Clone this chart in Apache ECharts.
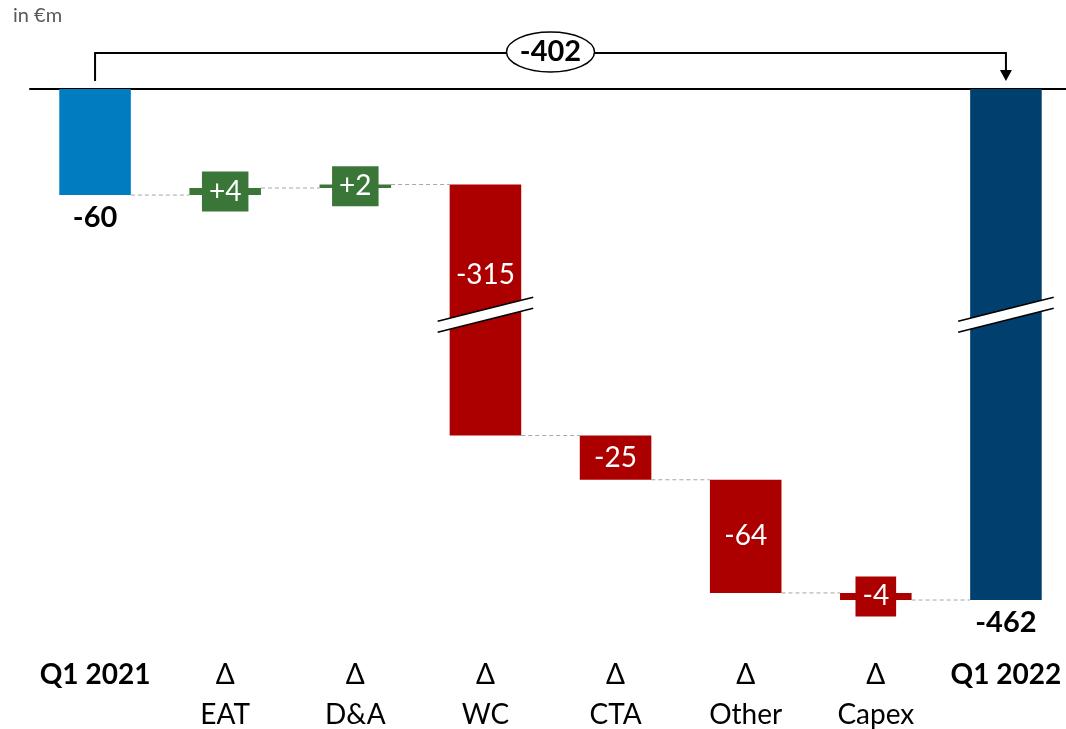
<!DOCTYPE html>
<html>
<head>
<meta charset="utf-8">
<script src="https://cdn.jsdelivr.net/npm/echarts@6/dist/echarts.min.js"></script>
<style>
  html, body { margin: 0; padding: 0; background: #fff; }
  #chart { width: 1066px; height: 729px; }
</style>
</head>
<body>
<div id="chart"></div>
<script>
var categories = ['Q1 2021', 'Δ\nEAT', 'Δ\nD&A', 'Δ\nWC', 'Δ\nCTA', 'Δ\nOther', 'Δ\nCapex', 'Q1 2022'];
var deltas = [-60, 4, 2, -315, -25, -64, -4, -462];
var isTotal = [true, false, false, false, false, false, false, true];
var barColors = ['#007cc1', '#3a7637', '#3a7637', '#ac0000', '#ac0000', '#ac0000', '#ac0000', '#003f6e'];
// part of the value axis that is cut out
var breakStart = -301, breakEnd = -128;

// waterfall: invisible base + visible bar
var baseVals = [], barVals = [], endVals = [];
var running = 0;
deltas.forEach(function (d, i) {
  var from = isTotal[i] ? 0 : running;
  var to = isTotal[i] ? d : running + d;
  baseVals.push(Math.max(from, to));
  barVals.push(Math.min(from, to) - Math.max(from, to));
  endVals.push(to);
  running = to;
});
var totalChange = deltas[deltas.length - 1] - deltas[0];

function labelText(i) {
  var d = deltas[i];
  return (!isTotal[i] && d > 0 ? '+' : '') + d;
}

var FONT = 'Lato, "Open Sans", sans-serif';
var BAR_RATIO = 0.55;

var chart = echarts.init(document.getElementById('chart'));
var option = {
  animation: false,
  textStyle: { fontFamily: FONT },
  grid: { left: 30, right: -5, top: 89, bottom: 129, outerBoundsMode: 'none' },
  graphic: [{
    type: 'text', left: 13, top: 6,
    style: { text: 'in €m', font: '20px ' + FONT, fill: '#595959' }
  }],
  xAxis: [{
    type: 'category',
    data: categories,
    position: 'bottom',
    axisLine: { show: false },
    axisTick: { show: false },
    axisLabel: {
      interval: 0,
      margin: 55,
      formatter: function (v) {
        if (v.indexOf('Q1') === 0) return '{b|' + v + '}';
        return v.split('\n').map(function (s) { return '{n|' + s + '}'; }).join('\n');
      },
      rich: {
        b: { fontFamily: FONT, fontWeight: 'bold', fontSize: 28, lineHeight: 40, color: '#000' },
        n: { fontFamily: FONT, fontSize: 28, lineHeight: 40, color: '#000' }
      }
    }
  }, {
    type: 'category',
    data: categories,
    position: 'top',
    axisLine: { lineStyle: { color: '#000', width: 2 } },
    axisTick: { show: false },
    axisLabel: { show: false }
  }],
  yAxis: {
    type: 'value',
    min: -462,
    max: 0,
    show: false,
    splitLine: { show: false },
    breaks: [{ start: breakStart, end: breakEnd, gap: 0 }],
    breakArea: { show: false }
  },
  series: [
    {
      type: 'bar',
      stack: 'wf',
      barWidth: (BAR_RATIO * 100) + '%',
      itemStyle: { color: 'transparent' },
      emphasis: { disabled: true },
      data: baseVals
    },
    {
      type: 'bar',
      stack: 'wf',
      barWidth: (BAR_RATIO * 100) + '%',
      emphasis: { disabled: true },
      z: 3,
      data: barVals.map(function (v, i) {
        var lbl = isTotal[i]
          ? { position: 'bottom', distance: 8, color: '#000', fontWeight: 'bold', fontSize: 29 }
          : { position: 'inside', color: '#fff', fontSize: 28, offset: i === 3 ? [0, -35] : [0, 0] };
        // thin bars get a box behind their label
        if (!isTotal[i] && Math.abs(deltas[i]) < 15) {
          lbl.backgroundColor = barColors[i];
          lbl.padding = [6, 7];
        }
        lbl.show = true;
        lbl.fontFamily = FONT;
        lbl.formatter = labelText(i);
        return { value: v, itemStyle: { color: barColors[i] }, label: lbl };
      })
    },
    {
      // dashed connectors between bars
      type: 'custom',
      z: 1,
      silent: true,
      data: endVals.slice(0, -1).map(function (v, i) { return [i, v]; }),
      renderItem: function (params, api) {
        var i = api.value(0), v = api.value(1);
        var half = api.size([1, 0])[0] * BAR_RATIO / 2;
        var p1 = api.coord([i, v]), p2 = api.coord([i + 1, v]);
        return {
          type: 'line',
          shape: { x1: p1[0] + half, y1: p1[1], x2: p2[0] - half, y2: p2[1] },
          style: { stroke: '#a6a6a6', lineWidth: 1, lineDash: [4, 3] }
        };
      }
    },
    {
      // break marks on bars that cross the cut
      type: 'custom',
      z: 5,
      silent: true,
      data: baseVals.map(function (b, i) { return [i, b, b + barVals[i]]; })
        .filter(function (d) { return d[1] >= breakEnd && d[2] <= breakStart; }),
      renderItem: function (params, api) {
        var i = api.value(0);
        var p = api.coord([i, breakEnd]);
        var hw = api.size([1, 0])[0] * BAR_RATIO / 2 + 12;
        var cx = p[0], cy = p[1];
        var up = [[cx - hw, cy + 6], [cx + hw, cy - 18]];
        var lo = [[cx - hw, cy + 17], [cx + hw, cy - 7]];
        return {
          type: 'group',
          children: [
            { type: 'polygon', shape: { points: [up[0], up[1], lo[1], lo[0]] }, style: { fill: '#fff' } },
            { type: 'line', shape: { x1: up[0][0], y1: up[0][1], x2: up[1][0], y2: up[1][1] }, style: { stroke: '#000', lineWidth: 1.5 } },
            { type: 'line', shape: { x1: lo[0][0], y1: lo[0][1], x2: lo[1][0], y2: lo[1][1] }, style: { stroke: '#000', lineWidth: 1.5 } }
          ]
        };
      }
    },
    {
      // bracket with the overall change
      type: 'custom',
      z: 6,
      silent: true,
      data: [[0, 0]],
      renderItem: function (params, api) {
        var a = api.coord([0, 0]);
        var b = api.coord([categories.length - 1, 0]);
        var yTop = a[1] - 36, yEnd = a[1] - 8;
        var mx = (a[0] + b[0]) / 2;
        return {
          type: 'group',
          children: [
            { type: 'polyline', shape: { points: [[a[0], yEnd], [a[0], yTop], [b[0], yTop], [b[0], yEnd - 10]] },
              style: { stroke: '#000', lineWidth: 2, fill: null } },
            { type: 'polygon', shape: { points: [[b[0] - 6, yEnd - 11], [b[0] + 6, yEnd - 11], [b[0], yEnd]] },
              style: { fill: '#000' } },
            { type: 'ellipse', shape: { cx: mx, cy: yTop - 1, rx: 44, ry: 20 },
              style: { fill: '#fff', stroke: '#000', lineWidth: 1.5 } },
            { type: 'text', x: mx, y: yTop - 1,
              style: { text: String(totalChange), font: 'bold 29px ' + FONT, fill: '#000',
                       align: 'center', verticalAlign: 'middle' } }
          ]
        };
      }
    }
  ]
};
chart.setOption(option);
window.addEventListener('resize', function () { chart.resize(); });
</script>
</body>
</html>
